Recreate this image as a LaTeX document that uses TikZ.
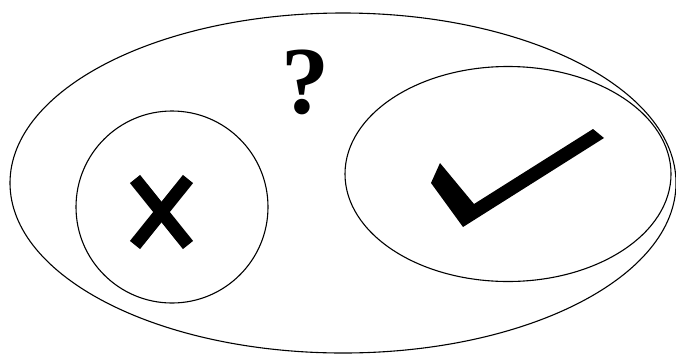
\documentclass[tikz,border=0pt]{standalone}
\usepackage{fontspec}
\setmainfont{Liberation Serif}
\usetikzlibrary{shapes.geometric}
\begin{document}
\begin{tikzpicture}[x=1pt,y=-1pt,
  outline/.style={draw=black,line width=1.1pt},
  markstroke/.style={line width=13pt,line cap=butt}]
\useasboundingbox (0,0) rectangle (676,354);
\node[outline,ellipse,minimum width=666pt,minimum height=340pt,inner sep=0pt] (outer) at (343,183) {};
\draw[outline] (172,207) circle (96);
\node[outline,ellipse,minimum width=326pt,minimum height=215pt,inner sep=0pt] (right) at (508,174) {};
\node[anchor=base,inner sep=0pt,font=\fontsize{96}{96}\selectfont\bfseries] (q) at (305,113) {?};
\coordinate (xa) at (135,179);
\coordinate (xb) at (188,245);
\coordinate (xc) at (188,179);
\coordinate (xd) at (135,245);
\draw[markstroke] (xa) -- (xb);
\draw[markstroke] (xc) -- (xd);
\fill[black] (440,163) -- (474,204) -- (593,129) -- (604,138) -- (463,227) -- (431,183) -- cycle;
\end{tikzpicture}
\end{document}
